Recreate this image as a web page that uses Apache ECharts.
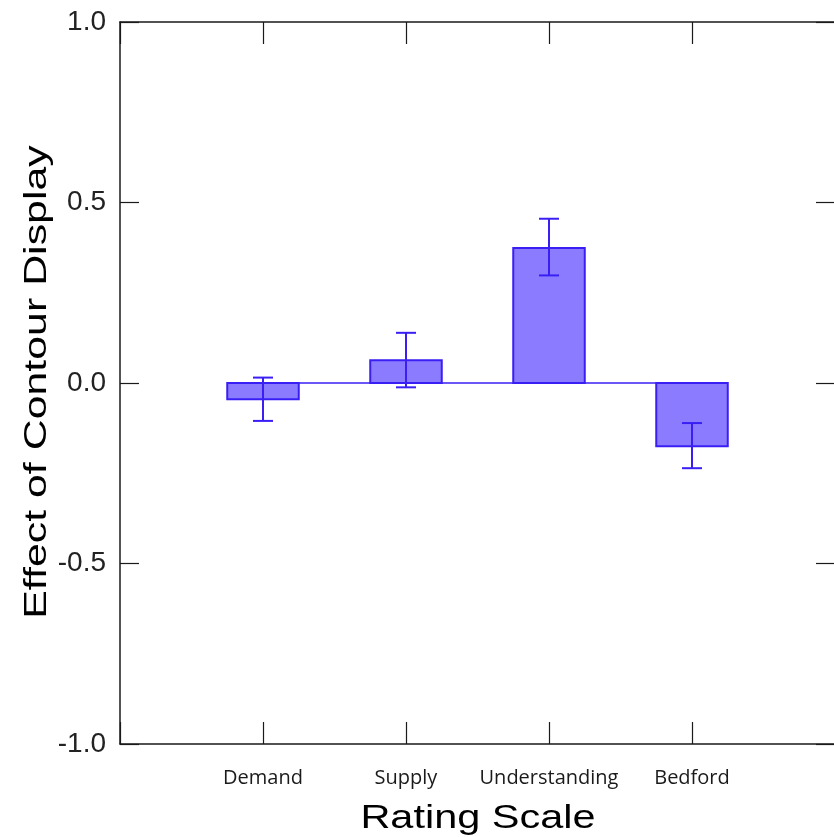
<!DOCTYPE html>
<html>
<head>
<meta charset="utf-8">
<script src="https://cdn.jsdelivr.net/npm/echarts@6/dist/echarts.min.js"></script>
<style>html,body{margin:0;padding:0;background:#fff}#c{width:834px;height:837px}</style>
</head>
<body>
<div id="c"></div>
<script>
var categories = ['Demand', 'Supply', 'Understanding', 'Bedford'];
var means = [-0.045, 0.063, 0.374, -0.175];
var errLow = [-0.105, -0.012, 0.298, -0.236];
var errHigh = [0.015, 0.139, 0.455, -0.111];
var yTicks = [-1.0, -0.5, 0.0, 0.5, 1.0];
var xTitle = 'Rating Scale';
var yTitle = 'Effect of Contour Display';

var BAR_HALF = 0.25;
var FILL = '#8b7cff';
var STROKE = '#3a1ff5';

var chart = echarts.init(document.getElementById('c'), null, {renderer: 'canvas'});

var barData = categories.map(function (c, i) { return [i + 1, means[i], errLow[i], errHigh[i]]; });

var axisLine = {show: true, onZero: false, lineStyle: {color: '#1a1a1a', width: 1.5}};
var tickStyle = {color: '#1a1a1a', width: 1.2};
var option = {
  animation: false,
  backgroundColor: '#fff',
  grid: {left: 120, top: 22, width: 715, height: 722, containLabel: false, outerBoundsMode: 'none'},
  xAxis: [{
    type: 'value', min: 0, max: categories.length + 1, interval: 1, position: 'bottom',
    axisLine: axisLine,
    axisTick: {show: true, inside: true, length: 22, lineStyle: tickStyle},
    splitLine: {show: false},
    axisLabel: {
      margin: 24, fontFamily: 'Open Sans', fontSize: 20, color: '#1a1a1a',
      formatter: function (v) { return categories[v - 1] || ''; }
    }
  }, {
    type: 'value', min: 0, max: categories.length + 1, interval: 1, position: 'top',
    axisLine: axisLine,
    axisTick: {show: true, inside: true, length: 22, lineStyle: tickStyle},
    splitLine: {show: false}, axisLabel: {show: false}
  }],
  yAxis: [{
    type: 'value', min: yTicks[0], max: yTicks[yTicks.length - 1], interval: 0.5, position: 'left',
    axisLine: axisLine,
    axisTick: {show: true, inside: true, length: 19, lineStyle: tickStyle},
    splitLine: {show: false},
    axisLabel: {
      margin: 14, fontFamily: 'Liberation Sans', fontSize: 28, color: '#222',
      formatter: function (v) { return v.toFixed(1); }
    }
  }, {
    type: 'value', min: yTicks[0], max: yTicks[yTicks.length - 1], interval: 0.5, position: 'right',
    axisLine: axisLine,
    axisTick: {show: true, inside: true, length: 19, lineStyle: tickStyle},
    splitLine: {show: false}, axisLabel: {show: false}
  }],
  graphic: [{
    type: 'text', x: 478, y: 819, scaleX: 1.22, scaleY: 1,
    style: {text: xTitle, fontFamily: 'Liberation Sans', fontSize: 34, fill: '#000',
      align: 'center', verticalAlign: 'middle'}
  }, {
    type: 'text', x: 37, y: 382, rotation: Math.PI / 2, scaleX: 1.34, scaleY: 1,
    style: {text: yTitle, fontFamily: 'Liberation Sans', fontSize: 32, fill: '#000',
      align: 'center', verticalAlign: 'middle'}
  }],
  series: [{
    type: 'custom', xAxisIndex: 0, yAxisIndex: 0, z: 1,
    data: [[1 - BAR_HALF, categories.length + BAR_HALF]],
    renderItem: function (params, api) {
      var a = api.coord([api.value(0), 0]);
      var b = api.coord([api.value(1), 0]);
      return {type: 'line', shape: {x1: a[0], y1: a[1], x2: b[0], y2: b[1]},
        style: {stroke: STROKE, lineWidth: 1.5}};
    }
  }, {
    type: 'custom', xAxisIndex: 0, yAxisIndex: 0, z: 2,
    data: barData,
    renderItem: function (params, api) {
      var x = api.value(0), m = api.value(1), lo = api.value(2), hi = api.value(3);
      var p1 = api.coord([x - BAR_HALF, m]);
      var p2 = api.coord([x + BAR_HALF, 0]);
      var top = Math.min(p1[1], p2[1]), h = Math.abs(p1[1] - p2[1]);
      var pl = api.coord([x, lo]), ph = api.coord([x, hi]);
      var cap = 10;
      return {type: 'group', children: [
        {type: 'rect', shape: {x: p1[0], y: top, width: p2[0] - p1[0], height: h},
          style: {fill: FILL, stroke: STROKE, lineWidth: 2}},
        {type: 'line', shape: {x1: pl[0], y1: pl[1], x2: ph[0], y2: ph[1]}, style: {stroke: STROKE, lineWidth: 2}},
        {type: 'line', shape: {x1: pl[0] - cap, y1: pl[1], x2: pl[0] + cap, y2: pl[1]}, style: {stroke: STROKE, lineWidth: 2}},
        {type: 'line', shape: {x1: ph[0] - cap, y1: ph[1], x2: ph[0] + cap, y2: ph[1]}, style: {stroke: STROKE, lineWidth: 2}}
      ]};
    }
  }]
};
chart.setOption(option);
</script>
</body>
</html>
